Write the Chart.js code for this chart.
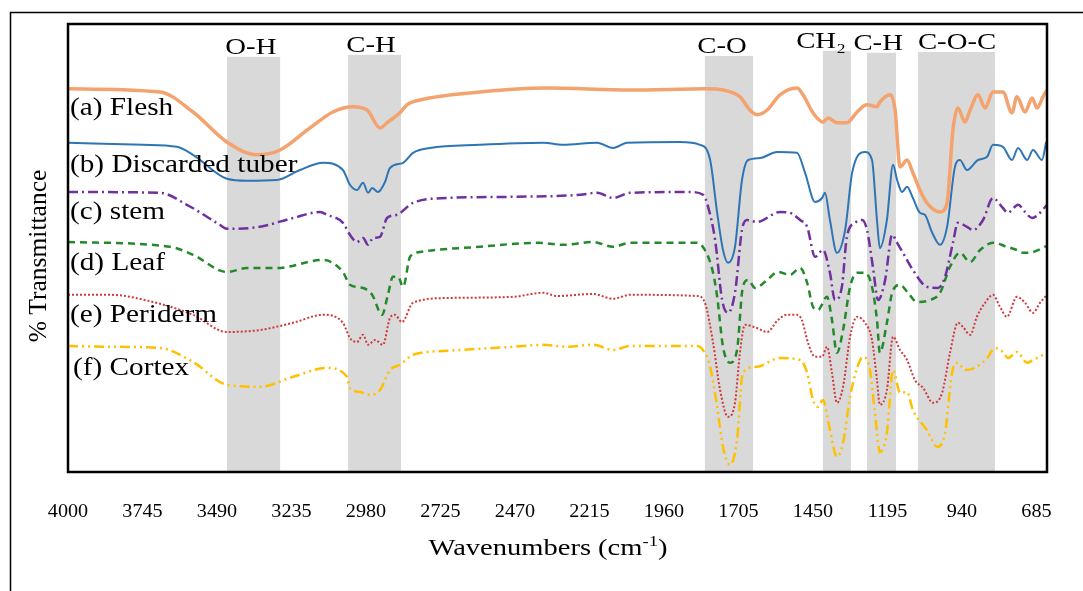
<!DOCTYPE html>
<html>
<head>
<meta charset="utf-8">
<script src="https://cdn.jsdelivr.net/npm/chart.js@4.4.0/dist/chart.umd.min.js"></script>
<style>
  html, body { margin: 0; padding: 0; background: #fff; }
  #wrap { position: relative; width: 1083px; height: 591px; }
</style>
</head>
<body>
<div id="wrap"><canvas id="ftirChart"></canvas></div>
<script>
// x axis tick labels (cm-1)
const tickValues = [4000, 3745, 3490, 3235, 2980, 2725, 2470, 2215, 1960, 1705, 1450, 1195, 940, 685];

// shaded absorption bands
const bandNames = ['O-H', 'C-H', 'C-O', 'CH\u2082', 'C-H', 'C-O-C'];
const bandFrom = [3456, 3042, 1820, 1416, 1265, 1091];
const bandTo = [3274, 2860, 1655, 1320, 1166, 827];
const bandTop = [103.8, 104.3, 104.0, 105.3, 104.8, 105.0];
const bandLabelAt = [3374, 2963, 1761, 1422, 1227, 957];

const seriesNames = ['(a) Flesh', '(b) Discarded tuber', '(c) stem', '(d) Leaf', '(e) Periderm', '(f) Cortex'];

// spectra: [wavenumber, %T] (curves are offset, arbitrary units)
const flesh = [[4000,95.8],[3685,95.0],[3572,90.0],[3456,82.5],[3353,79.3],[3274,80.5],[3172,86.0],[3093,90.0],[3024,91.3],[2976,90.5],
  [2932,86.0],[2908,87.3],[2864,89.8],[2840,91.8],[2795,93.0],[2590,95.0],[2360,96.0],[2076,95.5],[1813,95.8],[1758,95.5],
  [1700,93.8],[1666,90.5],[1642,89.3],[1607,90.5],[1563,94.3],[1505,96.0],[1484,94.3],[1450,89.8],[1416,87.5],[1398,88.5],
  [1368,87.3],[1334,87.3],[1299,90.0],[1265,91.8],[1231,91.3],[1221,92.5],[1186,94.3],[1169,90.5],[1152,76.3],[1128,78.0],
  [1108,74.8],[1084,70.5],[1060,67.3],[1015,65.0],[991,67.3],[971,85.5],[954,91.0],[930,87.5],[912,90.5],[885,94.3],
  [861,91.0],[834,95.0],[800,95.0],[769,89.8],[752,93.8],[724,90.0],[700,93.5],[683,91.0],[663,93.8],[649,95.5]];

const tuber = [[4000,82.3],[3743,81.8],[3627,81.3],[3572,79.3],[3456,73.3],[3387,72.8],[3285,73.0],[3206,75.5],[3127,77.3],[3059,75.5],
  [3035,71.8],[3011,70.5],[2990,72.3],[2973,69.8],[2959,71.0],[2939,70.0],[2915,72.5],[2898,76.0],[2853,77.3],[2819,79.8],
  [2761,81.0],[2590,81.8],[2374,82.3],[2306,81.8],[2189,82.3],[2134,81.0],[2087,82.3],[1905,82.5],[1837,81.8],[1802,78.0],
  [1778,64.8],[1758,55.5],[1741,52.3],[1717,56.3],[1693,73.0],[1672,78.0],[1631,78.5],[1573,80.0],[1505,79.8],[1477,74.8],
  [1443,67.5],[1419,68.5],[1409,69.8],[1392,63.0],[1368,54.8],[1340,60.5],[1316,74.8],[1272,80.0],[1248,78.0],[1231,63.0],
  [1221,56.0],[1197,63.0],[1176,76.8],[1162,73.0],[1145,70.0],[1128,71.3],[1108,68.5],[1084,64.8],[1067,64.3],[1043,60.0],
  [1015,56.8],[991,61.3],[964,76.3],[947,78.0],[923,75.5],[885,78.0],[854,78.8],[834,81.8],[800,81.3],[769,78.0],
  [748,81.0],[717,78.0],[697,80.5],[666,78.0],[652,82.5]];

const stem = [[4000,70.0],[3685,69.8],[3593,66.8],[3480,61.8],[3456,60.8],[3343,61.3],[3230,63.5],[3137,65.0],[3113,64.3],[3059,62.3],
  [3035,59.3],[3011,57.5],[2990,58.5],[2973,56.8],[2956,58.5],[2932,58.8],[2908,63.5],[2874,64.3],[2819,67.3],[2703,68.5],
  [2477,68.8],[2247,69.3],[2189,69.8],[2134,68.5],[2076,69.8],[1871,70.0],[1826,69.3],[1809,66.3],[1785,58.0],[1761,43.0],
  [1741,39.8],[1717,44.8],[1693,60.5],[1676,63.0],[1642,62.5],[1563,65.0],[1529,64.8],[1494,63.0],[1470,61.3],[1443,53.8],
  [1416,55.5],[1392,49.8],[1375,43.0],[1351,46.3],[1334,58.8],[1306,62.3],[1282,63.0],[1265,60.5],[1245,51.3],[1227,43.0],
  [1203,48.0],[1179,59.3],[1162,57.3],[1142,54.8],[1108,50.5],[1060,46.3],[1022,46.0],[998,48.8],[971,57.3],[954,62.3],
  [923,61.3],[902,60.5],[868,63.0],[834,68.5],[800,66.0],[783,64.8],[748,66.8],[724,65.0],[700,63.5],[680,64.3],[649,66.8]];

const leaf = [[4000,57.5],[3651,56.3],[3572,54.3],[3456,50.0],[3387,51.0],[3285,51.0],[3127,53.0],[3059,50.0],[3035,46.8],[2990,46.0],
  [2959,44.3],[2925,39.3],[2905,44.3],[2888,48.8],[2870,48.8],[2853,46.3],[2829,53.8],[2795,55.0],[2590,56.3],[2395,57.3],
  [2306,56.8],[2203,57.5],[2134,56.3],[2076,57.3],[1847,57.3],[1820,55.5],[1792,49.8],[1778,43.8],[1758,31.3],[1734,27.3],
  [1710,30.5],[1690,46.3],[1672,48.0],[1648,46.0],[1607,48.0],[1570,50.0],[1529,49.3],[1494,51.0],[1470,47.3],[1450,41.3],
  [1433,40.5],[1402,43.8],[1385,38.0],[1368,29.8],[1347,35.5],[1323,46.3],[1299,49.8],[1272,49.8],[1248,46.3],[1231,38.0],
  [1221,29.8],[1197,37.3],[1179,44.8],[1152,46.8],[1125,44.8],[1094,42.5],[1049,43.0],[1015,44.8],[981,51.3],[947,54.8],
  [912,52.5],[878,55.5],[834,57.3],[786,56.3],[752,55.5],[731,54.8],[697,55.0],[649,56.5]];

const periderm = [[4000,44.3],[3856,44.3],[3709,42.5],[3572,39.3],[3456,35.0],[3343,35.5],[3230,37.3],[3127,39.3],[3059,37.3],[3035,33.5],
  [3011,32.5],[2990,34.3],[2973,31.8],[2949,33.0],[2922,31.8],[2898,38.5],[2881,39.3],[2857,37.5],[2819,42.3],[2703,43.5],
  [2477,43.8],[2374,44.8],[2326,44.0],[2203,44.5],[2134,43.3],[2076,44.3],[1847,44.0],[1820,42.3],[1792,32.3],[1768,20.5],
  [1741,13.8],[1717,17.3],[1700,29.8],[1683,36.8],[1642,36.0],[1607,35.0],[1570,38.0],[1539,39.3],[1505,39.3],[1488,38.0],
  [1467,32.3],[1443,28.8],[1419,28.8],[1402,31.3],[1385,24.8],[1368,17.3],[1347,21.3],[1323,33.8],[1299,38.8],[1272,37.3],
  [1248,33.0],[1231,23.0],[1221,16.8],[1197,20.5],[1176,33.8],[1152,30.5],[1128,28.0],[1101,23.0],[1073,21.0],[1039,17.3],
  [1008,19.8],[981,29.8],[954,37.3],[937,36.3],[912,34.3],[889,38.8],[861,42.3],[834,44.3],[810,41.3],[786,38.8],
  [752,43.8],[724,42.3],[697,39.8],[673,42.3],[649,44.3]];

const cortex = [[4000,31.5],[3856,31.3],[3685,31.0],[3572,27.5],[3456,21.8],[3343,21.3],[3230,23.8],[3113,26.0],[3045,23.8],[3035,21.0],
  [3000,20.0],[2966,19.3],[2932,20.5],[2898,25.5],[2864,26.8],[2819,29.3],[2703,30.3],[2477,31.3],[2374,31.8],[2292,31.3],
  [2203,31.8],[2134,30.5],[2076,31.5],[1847,31.5],[1820,29.8],[1802,26.3],[1778,16.3],[1758,6.3],[1734,1.8],[1710,8.0],
  [1690,24.8],[1642,26.3],[1563,28.5],[1494,28.0],[1470,24.8],[1450,18.0],[1433,16.3],[1416,18.0],[1392,10.5],[1368,3.8],
  [1347,7.3],[1323,18.8],[1299,26.0],[1279,28.8],[1255,25.5],[1238,14.8],[1221,5.0],[1197,9.8],[1176,25.5],[1152,19.8],
  [1128,20.0],[1108,15.5],[1060,10.5],[1025,6.3],[998,9.8],[974,24.8],[954,27.3],[930,25.5],[889,26.3],[854,28.5],
  [827,31.0],[800,30.0],[783,28.5],[752,30.0],[717,27.3],[697,28.0],[649,29.8]];

const SERIF = '"Liberation Serif", "Times New Roman", serif';

// text in the figure is slightly wider than normal Times, so stretch it a bit
function drawText(ctx, text, x, y, size, sx, align, baseline) {
  ctx.save();
  ctx.font = size + 'px ' + SERIF;
  ctx.textAlign = align;
  ctx.textBaseline = baseline;
  ctx.translate(x, y);
  ctx.scale(sx, 1);
  ctx.fillText(text, 0, 0);
  ctx.restore();
}

const toPoints = arr => arr.map(p => ({ x: p[0], y: p[1] }));

const bandPlugin = {
  id: 'bands',
  beforeDatasetsDraw(chart) {
    const { ctx, chartArea: a, scales: { x, y } } = chart;
    ctx.save();
    ctx.fillStyle = '#d9d9d9';
    bandFrom.forEach((f, i) => {
      const x1 = x.getPixelForValue(f);
      const x2 = x.getPixelForValue(bandTo[i]);
      const top = y.getPixelForValue(bandTop[i]);
      ctx.fillRect(x1, top, x2 - x1, a.bottom - top);
    });
    ctx.restore();
  }
};

const textPlugin = {
  id: 'texts',
  afterDraw(chart) {
    const { ctx, chartArea: a, scales: { x, y } } = chart;
    ctx.save();
    ctx.fillStyle = '#000';

    // band labels
    bandNames.forEach((name, i) => {
      const top = y.getPixelForValue(bandTop[i]);
      drawText(ctx, name, x.getPixelForValue(bandLabelAt[i]), top - 3, 23, 1.25, 'center', 'alphabetic');
    });

    // sample labels inside the plot
    const labelPos = [[70, 108], [70, 165], [70, 212], [70, 263], [70, 315], [73, 368]];
    seriesNames.forEach((name, i) => {
      drawText(ctx, name, labelPos[i][0], labelPos[i][1], 25, 1.17, 'left', 'middle');
    });

    // tick labels
    tickValues.forEach(v => {
      drawText(ctx, String(v), x.getPixelForValue(v), 512, 18, 1.12, 'center', 'middle');
    });

    // x title with superscript
    const sx = 1.24;
    ctx.font = '23px ' + SERIF;
    const w1 = ctx.measureText('Wavenumbers (cm').width;
    const w3 = ctx.measureText(')').width;
    ctx.font = '15px ' + SERIF;
    const w2 = ctx.measureText('-1').width;
    const start = 548 - (w1 + w2 + w3) * sx / 2;
    drawText(ctx, 'Wavenumbers (cm', start, 549, 23, sx, 'left', 'middle');
    drawText(ctx, '-1', start + w1 * sx, 542, 15, sx, 'left', 'middle');
    drawText(ctx, ')', start + (w1 + w2) * sx, 549, 23, sx, 'left', 'middle');

    // y title
    ctx.save();
    ctx.translate(39, 256);
    ctx.rotate(-Math.PI / 2);
    drawText(ctx, '% Transmittance', 0, 0, 25.5, 1, 'center', 'middle');
    ctx.restore();

    // plot frame
    ctx.strokeStyle = '#000';
    ctx.lineWidth = 2.5;
    ctx.strokeRect(a.left, a.top, a.right - a.left, a.bottom - a.top);

    // outer figure frame (left and top)
    ctx.lineWidth = 1.5;
    ctx.beginPath();
    ctx.moveTo(10.5, 591);
    ctx.lineTo(10.5, 12.5);
    ctx.lineTo(1083, 12.5);
    ctx.stroke();
    ctx.restore();
  }
};

const ctx = document.getElementById('ftirChart').getContext('2d');
const ftirChart = new Chart(ctx, {
  type: 'line',
  data: {
    datasets: [
      { label: seriesNames[0], data: toPoints(flesh), borderColor: '#F4A26E', borderWidth: 3.5 },
      { label: seriesNames[1], data: toPoints(tuber), borderColor: '#2E75B6', borderWidth: 2 },
      { label: seriesNames[2], data: toPoints(stem), borderColor: '#7030A0', borderWidth: 2.5, borderDash: [10, 4, 2, 4] },
      { label: seriesNames[3], data: toPoints(leaf), borderColor: '#23892A', borderWidth: 2.5, borderDash: [7, 5] },
      { label: seriesNames[4], data: toPoints(periderm), borderColor: '#D0393B', borderWidth: 2, borderDash: [2, 2] },
      { label: seriesNames[5], data: toPoints(cortex), borderColor: '#FFC000', borderWidth: 2.5, borderDash: [10, 4, 2, 4, 2, 4] }
    ]
  },
  options: {
    animation: false,
    responsive: true,
    maintainAspectRatio: false,
    layout: { padding: { left: 68, right: 36, top: 24, bottom: 119 } },
    plugins: {
      legend: { display: false },
      tooltip: { enabled: false }
    },
    elements: {
      point: { radius: 0 },
      line: { cubicInterpolationMode: 'monotone', fill: false }
    },
    scales: {
      x: { type: 'linear', reverse: true, min: 649, max: 4000, display: false },
      y: { min: 0, max: 112, display: false }
    }
  },
  plugins: [bandPlugin, textPlugin]
});
</script>
</body>
</html>
